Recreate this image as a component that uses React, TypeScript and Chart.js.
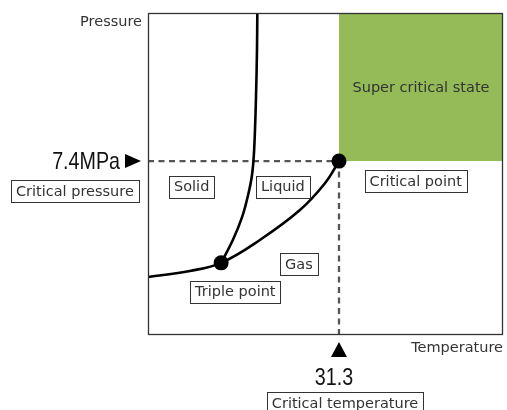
import React, { useEffect, useRef } from "react";
import { Chart, registerables } from "chart.js";

Chart.register(...registerables);

// Phase diagram (abstract units: x = temperature 0..100, y = pressure 0..100)
const liquidGasCurve = [
  { x: 0, y: 18.0 },
  { x: 11.8, y: 19.9 },
  { x: 20.6, y: 22.4 },
  { x: 31.5, y: 29.5 },
  { x: 42.8, y: 38.8 },
  { x: 49.9, y: 47.2 },
  { x: 53.8, y: 54.0 },
];
const solidLiquidCurve = [
  { x: 20.6, y: 22.4 },
  { x: 23.9, y: 29.5 },
  { x: 26.5, y: 36.6 },
  { x: 28.2, y: 43.5 },
  { x: 29.3, y: 49.7 },
  { x: 29.9, y: 57.5 },
  { x: 30.4, y: 73.0 },
  { x: 30.7, y: 88.5 },
  { x: 30.8, y: 101 },
];
const criticalPoint = { x: 53.8, y: 54.0 };
const triplePoint = { x: 20.6, y: 22.4 };
const axisMax = 100;

const regionLabels = [
  { text: "Solid", x: 12.3, y: 46.1 },
  { text: "Liquid", x: 38.0, y: 46.1 },
  { text: "Critical point", x: 75.4, y: 47.8 },
  { text: "Gas", x: 42.5, y: 21.9 },
  { text: "Triple point", x: 24.6, y: 13.5 },
  { text: "Critical pressure", x: -20.6, y: 44.7 },
  { text: "Critical temperature", x: 55.5, y: -21.1 },
];
const criticalPressureLabel = "7.4MPa";
const criticalTempLabel = "31.3";
const superCriticalLabel = "Super critical state";
const xTitle = "Temperature";
const yTitle = "Pressure";

const LABEL_FONT = "14.5px 'DejaVu Sans', sans-serif";
const TEXT_COLOR = "#333";

const decorPlugin = {
  id: "decor",
  afterDatasetsDraw(chart: any) {
    const { ctx, chartArea, scales } = chart;
    const xs = scales.x;
    const ys = scales.y;
    const cx = xs.getPixelForValue(criticalPoint.x);
    const cy = ys.getPixelForValue(criticalPoint.y);
    ctx.save();
    // border
    ctx.strokeStyle = "#333";
    ctx.lineWidth = 1.3;
    ctx.strokeRect(
      chartArea.left + 0.5,
      chartArea.top + 0.5,
      chartArea.right - chartArea.left - 1,
      chartArea.bottom - chartArea.top - 1
    );
    // super critical text
    ctx.fillStyle = TEXT_COLOR;
    ctx.font = LABEL_FONT;
    ctx.textAlign = "center";
    ctx.textBaseline = "middle";
    ctx.fillText(superCriticalLabel, (cx + chartArea.right) / 2, (cy + chartArea.top) / 2 + 1);
    // boxed labels
    for (const l of regionLabels) {
      const px = xs.getPixelForValue(l.x);
      const py = ys.getPixelForValue(l.y);
      const w = ctx.measureText(l.text).width + 10;
      const h = 22;
      ctx.fillStyle = "#fff";
      ctx.fillRect(px - w / 2, py - h / 2, w, h);
      ctx.strokeStyle = "#333";
      ctx.lineWidth = 1;
      ctx.strokeRect(Math.round(px - w / 2) + 0.5, Math.round(py - h / 2) + 0.5, Math.round(w), h);
      ctx.fillStyle = TEXT_COLOR;
      ctx.fillText(l.text, px, py + 1);
    }
    // axis titles
    ctx.textAlign = "right";
    ctx.fillText(yTitle, chartArea.left - 6, chartArea.top + 9);
    ctx.textAlign = "right";
    ctx.fillText(xTitle, chartArea.right, chartArea.bottom + 13);
    // arrows
    ctx.fillStyle = "#000";
    ctx.beginPath();
    ctx.moveTo(chartArea.left - 7, cy);
    ctx.lineTo(chartArea.left - 23, cy - 7);
    ctx.lineTo(chartArea.left - 23, cy + 7);
    ctx.closePath();
    ctx.fill();
    ctx.beginPath();
    ctx.moveTo(cx, chartArea.bottom + 7);
    ctx.lineTo(cx - 8, chartArea.bottom + 22);
    ctx.lineTo(cx + 8, chartArea.bottom + 22);
    ctx.closePath();
    ctx.fill();
    // narrow big numbers
    ctx.font = "24px 'Liberation Sans', Arial, sans-serif";
    ctx.textBaseline = "middle";
    ctx.save();
    ctx.translate(chartArea.left - 28, cy + 1);
    ctx.scale(0.82, 1);
    ctx.textAlign = "right";
    ctx.fillStyle = "#111";
    ctx.fillText(criticalPressureLabel, 0, 0);
    ctx.restore();
    ctx.save();
    ctx.translate(cx - 5, chartArea.bottom + 43);
    ctx.scale(0.82, 1);
    ctx.textAlign = "center";
    ctx.fillStyle = "#111";
    ctx.fillText(criticalTempLabel, 0, 0);
    ctx.restore();
    ctx.restore();
  },
};

export default function App() {
  const ref = useRef<HTMLCanvasElement | null>(null);
  useEffect(() => {
    if (!ref.current) return;
    const chart = new Chart(ref.current, {
      type: "line",
      data: {
        datasets: [
          {
            data: [criticalPoint, triplePoint],
            showLine: false,
            pointRadius: 7.5,
            pointBackgroundColor: "#000",
            pointBorderWidth: 0,
            order: 1,
          } as any,
          {
            data: liquidGasCurve,
            borderColor: "#000",
            borderWidth: 2.6,
            pointRadius: 0,
            tension: 0.4,
            order: 2,
          },
          {
            data: solidLiquidCurve,
            borderColor: "#000",
            borderWidth: 2.6,
            pointRadius: 0,
            tension: 0.35,
            order: 2,
          },
          {
            data: [{ x: 0, y: criticalPoint.y }, criticalPoint],
            borderColor: "#555",
            borderWidth: 2.3,
            borderDash: [6, 4.5],
            pointRadius: 0,
            order: 4,
          },
          {
            data: [criticalPoint, { x: criticalPoint.x, y: 0 }],
            borderColor: "#555",
            borderWidth: 2.3,
            borderDash: [6, 4.5],
            pointRadius: 0,
            order: 4,
          },
          {
            data: [{ x: criticalPoint.x, y: axisMax }, { x: axisMax, y: axisMax }],
            borderWidth: 0,
            pointRadius: 0,
            backgroundColor: "#94bb58",
            fill: { value: criticalPoint.y },
            order: 5,
          } as any,
        ],
      },
      options: {
        animation: false,
        responsive: false,
        events: [],
        layout: { autoPadding: false, padding: { left: 148, top: 13, right: 4, bottom: 75 } },
        plugins: { legend: { display: false }, tooltip: { enabled: false } },
        scales: {
          x: { type: "linear", min: 0, max: axisMax, display: false },
          y: { type: "linear", min: 0, max: axisMax, display: false },
        },
      },
      plugins: [decorPlugin],
    });
    return () => chart.destroy();
  }, []);
  return (
    <div style={{ position: "absolute", left: 0, top: 0, width: 507, height: 410, background: "#fff" }}>
      <canvas ref={ref} width={507} height={410} style={{ width: 507, height: 410 }} />
    </div>
  );
}
